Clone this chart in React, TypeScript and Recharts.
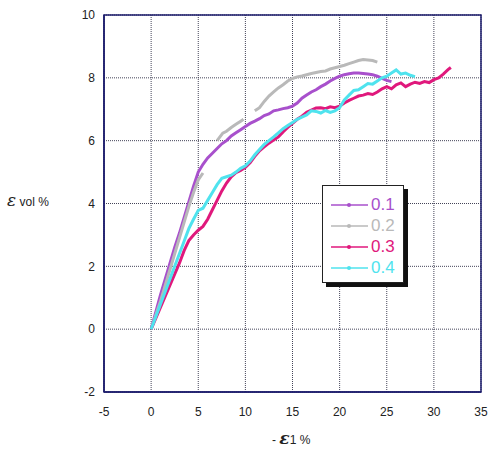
import { CartesianGrid, Line, LineChart, ReferenceArea, XAxis, YAxis } from "recharts";

type Pt = { x: number; y: number | null };

const xTicks = [-5, 0, 5, 10, 15, 20, 25, 30, 35];
const yTicks = [-2, 0, 2, 4, 6, 8, 10];

const s01x = [0, 0.5, 1, 1.5, 2, 2.5, 3, 3.5, 4, 4.5, 5, 5.5, 6, 6.5, 7, 7.5, 8, 8.5, 9, 9.5, 10, 10.5, 11, 11.5, 12, 12.5, 13, 13.5, 14, 14.5, 15, 15.5, 16, 16.5, 17, 17.5, 18, 18.5, 19, 19.5, 20, 20.5, 21, 21.5, 22, 22.5, 23, 23.5, 24, 24.5, 25, 25.5];
const s01y = [0, 0.55, 1.1, 1.6, 2.1, 2.6, 3.05, 3.55, 4.05, 4.55, 5.0, 5.25, 5.45, 5.6, 5.75, 5.9, 6.0, 6.15, 6.25, 6.35, 6.45, 6.55, 6.62, 6.7, 6.8, 6.85, 6.95, 6.98, 7.02, 7.05, 7.1, 7.2, 7.35, 7.45, 7.55, 7.62, 7.72, 7.8, 7.9, 7.98, 8.05, 8.1, 8.13, 8.15, 8.15, 8.14, 8.12, 8.1, 8.05, 7.98, 7.92, 7.88];

const s02x = [0, 0.5, 1, 1.5, 2, 2.5, 3, 3.5, 4, 4.5, 5, 5.5, 6.3, 7.0, 7.6, 8, 8.5, 9, 9.5, 9.8, 10.4, 11, 11.5, 12, 12.5, 13, 13.5, 14, 14.5, 15, 15.5, 16, 16.5, 17, 17.5, 18, 18.5, 19, 19.5, 20, 20.5, 21, 21.5, 22, 22.5, 23, 23.5, 24];
const s02y = [0, 0.45, 0.9, 1.4, 1.9, 2.4, 2.9, 3.4, 3.9, 4.35, 4.75, 4.97, null, 6.0, 6.24, 6.3, 6.42, 6.52, 6.62, 6.68, null, 6.95, 7.05, 7.25, 7.42, 7.55, 7.68, 7.78, 7.9, 7.98, 8.03, 8.06, 8.1, 8.14, 8.17, 8.2, 8.22, 8.28, 8.32, 8.36, 8.4, 8.45, 8.5, 8.55, 8.58, 8.57, 8.55, 8.5];

const s03x = [0, 0.5, 1, 1.5, 2, 2.5, 3, 3.5, 4, 4.5, 5, 5.5, 6, 6.5, 7, 7.5, 8, 8.5, 9, 9.5, 10, 10.5, 11, 11.5, 12, 12.5, 13, 13.5, 14, 14.5, 15, 15.5, 16, 16.5, 17, 17.5, 18, 18.5, 19, 19.5, 20, 20.5, 21, 21.5, 22, 22.5, 23, 23.5, 24, 24.5, 25, 25.5, 26, 26.5, 27, 27.5, 28, 28.5, 29, 29.5, 30, 30.5, 31, 31.5, 31.8];
const s03y = [0, 0.35, 0.7, 1.05, 1.4, 1.75, 2.1, 2.5, 2.82, 3.0, 3.15, 3.27, 3.5, 3.8, 4.1, 4.4, 4.65, 4.85, 4.98, 5.05, 5.15, 5.3, 5.5, 5.68, 5.8, 5.92, 6.02, 6.12, 6.28, 6.42, 6.55, 6.68, 6.78, 6.9, 6.97, 7.04, 7.05, 7.02, 7.08, 7.05, 7.1, 7.2, 7.28, 7.35, 7.42, 7.45, 7.5, 7.47, 7.55, 7.65, 7.72, 7.65, 7.78, 7.84, 7.72, 7.8, 7.86, 7.82, 7.88, 7.85, 7.94, 8.0, 8.12, 8.26, 8.33];

const s04x = [0, 0.5, 1, 1.5, 2, 2.5, 3, 3.5, 4, 4.5, 5, 5.5, 6, 6.5, 7, 7.5, 8, 8.5, 9, 9.5, 10, 10.5, 11, 11.5, 12, 12.5, 13, 13.5, 14, 14.5, 15, 15.5, 16, 16.5, 17, 17.5, 18, 18.5, 19, 19.5, 20, 20.5, 21, 21.5, 22, 22.5, 23, 23.5, 24, 24.5, 25, 25.5, 26, 26.5, 27, 27.5, 28];
const s04y = [0, 0.4, 0.8, 1.2, 1.6, 2.0, 2.4, 2.8, 3.2, 3.5, 3.78, 3.85, 4.1, 4.35, 4.6, 4.8, 4.85, 4.9, 5.0, 5.12, 5.2, 5.35, 5.55, 5.72, 5.88, 6.0, 6.12, 6.25, 6.38, 6.48, 6.58, 6.68, 6.75, 6.82, 6.95, 6.93, 6.88, 6.96, 6.9, 6.95, 7.05, 7.3, 7.45, 7.6, 7.62, 7.72, 7.82, 7.8, 7.9, 8.0, 8.05, 8.15, 8.25, 8.12, 8.15, 8.08, 8.04];

const toPts = (xs: number[], ys: (number | null)[]): Pt[] => xs.map((x, i) => ({ x, y: ys[i] }));

const series = [
  { name: "0.1", color: "#a850cc", data: toPts(s01x, s01y) },
  { name: "0.2", color: "#b9b9b9", data: toPts(s02x, s02y) },
  { name: "0.3", color: "#e0187c", data: toPts(s03x, s03y) },
  { name: "0.4", color: "#4fe3ee", data: toPts(s04x, s04y) },
];

const font = "'Liberation Sans', Arial, sans-serif";

// legend drawn as a plain box over the plot, like the excel one
function LegendBox() {
  return (
    <div
      style={{
        position: "absolute",
        left: 322,
        top: 185,
        width: 82,
        height: 98,
        border: "1px solid #222",
        background: "#fff",
        boxShadow: "4px 4px 0 #111",
        boxSizing: "border-box",
        paddingTop: 8,
      }}
    >
      {series.map((s) => (
        <div key={s.name} style={{ display: "flex", alignItems: "center", height: 21 }}>
          <svg width={48} height={10}>
            <line x1={8} y1={5} x2={45} y2={5} stroke={s.color} strokeWidth={1.5} />
            <circle cx={26} cy={5} r={2} fill={s.color} />
          </svg>
          <span style={{ color: s.color, fontFamily: font, fontSize: 17 }}>{s.name}</span>
        </div>
      ))}
    </div>
  );
}

export default function App() {
  return (
    <div style={{ position: "absolute", left: 0, top: 0, width: 490, height: 463, background: "#fff" }}>
      <LineChart width={490} height={463} margin={{ top: 15, right: 9, bottom: 40, left: 0 }}>
        <CartesianGrid stroke="#444458" strokeDasharray="1 1" />
        <XAxis
          type="number"
          dataKey="x"
          domain={[-5, 35]}
          ticks={xTicks}
          allowDataOverflow
          height={31}
          axisLine={{ stroke: "#1c1c6c", strokeWidth: 1.5 }}
          tickLine={false}
          tickSize={0}
          tickMargin={15}
          tick={{ fill: "#222", fontSize: 12, fontFamily: font }}
        />
        <YAxis
          type="number"
          dataKey="y"
          domain={[-2, 10]}
          ticks={yTicks}
          allowDataOverflow
          width={104}
          axisLine={{ stroke: "#1c1c6c", strokeWidth: 1.5 }}
          tickLine={false}
          tickSize={0}
          tickMargin={9}
          tick={{ fill: "#222", fontSize: 12, fontFamily: font }}
        />
        <ReferenceArea x1={-5} x2={35} y1={-2} y2={10} fill="none" stroke="#1c1c6c" strokeWidth={1.5} />
        {series.map((s) => (
          <Line
            key={s.name}
            data={s.data}
            dataKey="y"
            name={s.name}
            type="linear"
            stroke={s.color}
            strokeWidth={3}
            dot={false}
            activeDot={false}
            connectNulls={false}
            isAnimationActive={false}
          />
        ))}
      </LineChart>
      <LegendBox />
      <div style={{ position: "absolute", left: 7, top: 190, fontFamily: font, fontSize: 12, color: "#222", whiteSpace: "nowrap" }}>
        <span style={{ fontFamily: "'DejaVu Serif', serif", fontStyle: "italic", fontSize: 17 }}>ε</span> vol %
      </div>
      <div style={{ position: "absolute", left: 272, top: 428, fontFamily: font, fontSize: 12, color: "#222", whiteSpace: "nowrap" }}>
        - <span style={{ fontFamily: "'DejaVu Serif', serif", fontStyle: "italic", fontWeight: "bold", fontSize: 17 }}>ε</span>1 %
      </div>
    </div>
  );
}
